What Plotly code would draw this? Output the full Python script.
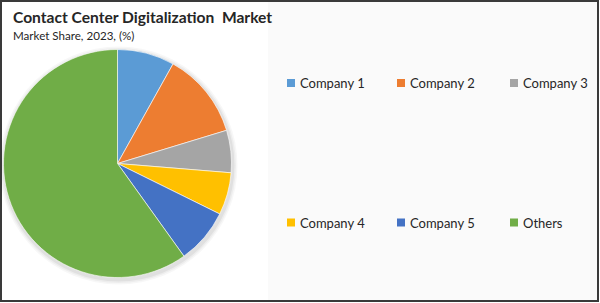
import plotly.graph_objects as go

# ---- data ----
categories = ["Company 1", "Company 2", "Company 3", "Company 4", "Company 5", "Others"]
shares = [8.1, 12.2, 6.0, 6.0, 7.8, 59.9]
colors = ["#5B9BD5", "#ED7D31", "#A5A5A5", "#FFC000", "#4472C4", "#70AD47"]
title_text = "Contact Center Digitalization  Market"
subtitle_text = "Market Share, 2023, (%)"

W, H = 600, 303
FONT = "Lato"

fig = go.Figure()

# pie geometry (pixels)
cx, cy, r = 117.5, 163.5, 114
fig.add_trace(go.Pie(
    labels=categories, values=shares, sort=False, direction="clockwise",
    rotation=0, textinfo="none", hoverinfo="label+percent",
    marker=dict(colors=colors, line=dict(color="#ffffff", width=0.6)),
    domain=dict(x=[(cx - r) / W, (cx + r) / W], y=[(H - cy - r) / H, (H - cy + r) / H]),
    showlegend=False,
))

shapes = []
annotations = []

# light background panel on the right
shapes.append(dict(type="rect", xref="paper", yref="paper", layer="below",
                   x0=268 / W, x1=597 / W, y0=2 / H, y1=1 - 2 / H,
                   fillcolor="#fafafa", line=dict(width=0)))
# soft shadow behind pie
for k, (off, op) in enumerate([(5, 0.03), (3.5, 0.04), (2, 0.05)]):
    shapes.append(dict(type="circle", xref="paper", yref="paper", layer="below",
                       x0=(cx - r - off + 1) / W, x1=(cx + r + off + 1) / W,
                       y0=(H - cy - r - off - 2) / H, y1=(H - cy + r + off - 2) / H,
                       fillcolor=f"rgba(0,0,0,{op})", line=dict(width=0)))

# outer border
shapes.append(dict(type="rect", xref="paper", yref="paper",
                   x0=1 / W, x1=1 - 2 / W, y0=2 / H, y1=1 - 1 / H,
                   line=dict(color="#3a3a3a", width=2), fillcolor="rgba(0,0,0,0)"))

# legend (two rows of three)
col_x = [287, 397, 510]
row_y = [83, 222.5]
sq = 8
for i, (lab, col) in enumerate(zip(categories, colors)):
    x = col_x[i % 3]
    y = row_y[i // 3]
    shapes.append(dict(type="rect", xref="paper", yref="paper",
                       x0=x / W, x1=(x + sq) / W, y0=(H - y - sq / 2) / H, y1=(H - y + sq / 2) / H,
                       fillcolor=col, line=dict(width=0)))
    annotations.append(dict(text=lab, xref="paper", yref="paper", x=(x + 10.5) / W, y=(H - y) / H,
                            xanchor="left", yanchor="middle", showarrow=False,
                            font=dict(family=FONT, size=13, color="#262626")))

annotations.append(dict(text="<b>" + title_text + "</b>", xref="paper", yref="paper",
                        x=11 / W, y=(H - 17.5) / H, xanchor="left", yanchor="middle",
                        showarrow=False, font=dict(family=FONT, size=15.6, color="#262626")))
annotations.append(dict(text=subtitle_text, xref="paper", yref="paper",
                        x=11 / W, y=(H - 35.5) / H, xanchor="left", yanchor="middle",
                        showarrow=False, font=dict(family=FONT, size=11.6, color="#262626")))

fig.update_layout(
    width=W, height=H, margin=dict(l=0, r=0, t=0, b=0),
    paper_bgcolor="#ffffff", plot_bgcolor="#ffffff",
    shapes=shapes, annotations=annotations, showlegend=False,
)

fig.write_html("out.html")
